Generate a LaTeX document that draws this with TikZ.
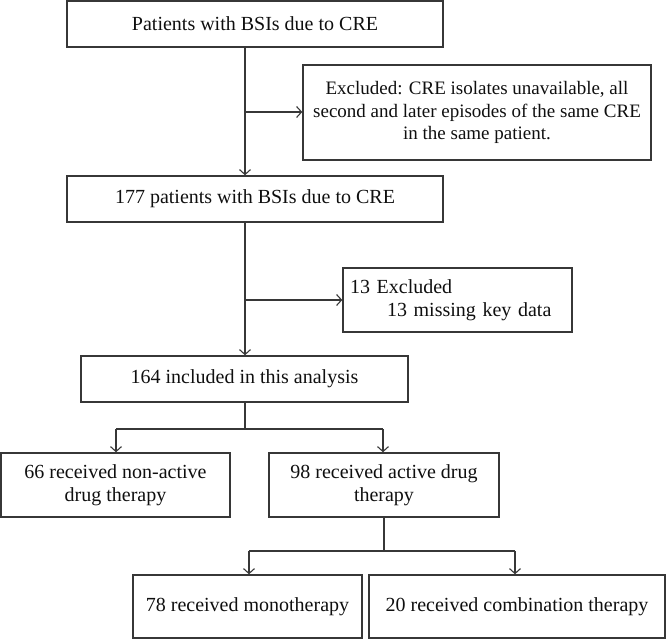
\documentclass[tikz,border=0pt]{standalone}
\usepackage{fontspec}
\setmainfont{Liberation Serif}
\usetikzlibrary{arrows.meta}
\definecolor{linecol}{RGB}{55,55,55}
\definecolor{textcol}{RGB}{15,15,15}
\tikzset{
  box/.style={draw=linecol, line width=1.4pt, rectangle, inner sep=0pt, align=center,
    text=textcol, font=\fontsize{20}{23}\selectfont},
  conn/.style={draw=linecol, line width=1.4pt},
  arr/.style={conn, -{Straight Barb[length=5pt,width=11pt,line width=1.1pt]}}
}
\begin{document}
\begin{tikzpicture}[x=1pt,y=-1pt]
\useasboundingbox (0,0) rectangle (666,641);
% boxes: centre = ((l+r)/2,(t+b)/2)
\node[box, minimum width=376pt, minimum height=46pt] (b1) at (255,24) {Patients with BSIs due to CRE};
\node[box, minimum width=348pt, minimum height=95pt, font=\fontsize{19}{22.5}\selectfont] (ex1) at (477,112.5) {Excluded: CRE isolates unavailable, all\\second and later episodes of the same CRE\\in the same patient.};
\node[box, minimum width=376pt, minimum height=46pt] (b2) at (255,199) {177 patients with BSIs due to CRE};
\node[box, minimum width=229pt, minimum height=64pt, text width=215pt, inner xsep=7pt, align=left] (ex2) at (457.5,300) {13 Excluded\\\hspace*{37pt}13 missing key data};
\node[box, minimum width=327pt, minimum height=46pt] (b3) at (244.5,379) {164 included in this analysis};
\node[box, minimum width=229pt, minimum height=64pt] (b4) at (115.5,485) {66 received non-active\\drug therapy};
\node[box, minimum width=230pt, minimum height=64pt] (b5) at (384,485) {98 received active drug\\therapy};
\node[box, minimum width=229pt, minimum height=63pt] (b6) at (247.5,606.5) {78 received monotherapy};
\node[box, minimum width=296pt, minimum height=63pt] (b7) at (517,606.5) {20 received combination therapy};
% junctions
\coordinate (j1) at (245,112);
\coordinate (j2) at (245,300);
\coordinate (j3) at (245,429);
\coordinate (j4) at (384,551);
\coordinate (d4) at (116,429);
\coordinate (d5) at (383,429);
\coordinate (d6) at (249,551);
\coordinate (d7) at (515,551);
% connectors
\draw[arr] (b1.south -| j1) -- (b2.north -| j1);
\draw[arr] (j1) -- (ex1.west |- j1);
\draw[arr] (b2.south -| j2) -- (b3.north -| j2);
\draw[arr] (j2) -- (ex2.west |- j2);
\draw[conn] (b3.south -| j3) -- (j3);
\draw[conn] (d4) -- (d5);
\draw[arr] (d4) -- (b4.north -| d4);
\draw[arr] (d5) -- (b5.north -| d5);
\draw[conn] (b5.south -| j4) -- (j4);
\draw[conn] (d6) -- (d7);
\draw[arr] (d6) -- (b6.north -| d6);
\draw[arr] (d7) -- (b7.north -| d7);
\end{tikzpicture}
\end{document}
